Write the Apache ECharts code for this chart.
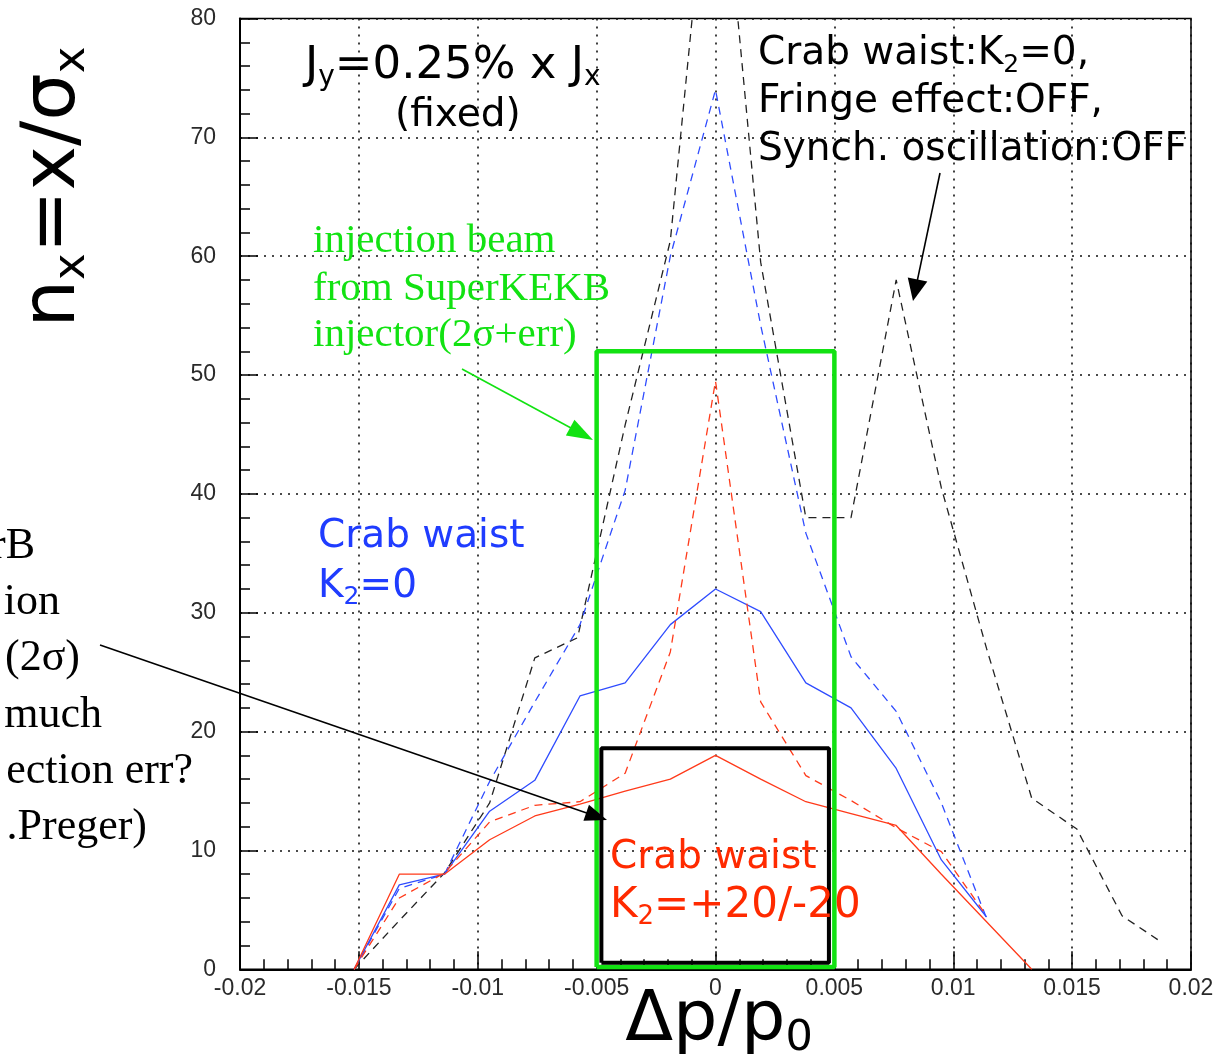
<!DOCTYPE html>
<html><head><meta charset="utf-8">
<script src="https://cdn.jsdelivr.net/npm/echarts@6/dist/echarts.min.js"></script>
<style>html,body{margin:0;padding:0;background:#fff}#c{width:1214px;height:1058px}</style>
</head><body><div id="c"></div>
<script>
// ---- data: [Δp/p0, n_x] ----
const blackDashed = [[-0.0152,0],[-0.0133,4.1],[-0.0114,8.1],[-0.0095,14],[-0.0076,26.2],[-0.0058,27.9],[-0.0038,45.8],[-0.0019,61.3],[0,100],[0.0019,59.5],[0.0038,38],[0.0057,38],[0.0076,58],[0.0095,40.5],[0.0114,27],[0.0133,14.4],[0.0152,11.8],[0.0171,4.5],[0.0186,2.5]];
const blueDashed = [[-0.0152,0],[-0.0133,6.8],[-0.0114,8],[-0.0095,15.8],[-0.0076,22.5],[-0.0057,29],[-0.0038,40.3],[-0.0019,60],[0,74],[0.0019,54.2],[0.0038,36.7],[0.0057,26.3],[0.0076,21.7],[0.0095,14],[0.0114,4.3]];
const blueSolid = [[-0.0152,0],[-0.0133,7.1],[-0.0114,8],[-0.0095,13.3],[-0.0076,15.9],[-0.0057,23],[-0.0038,24.1],[-0.0019,29],[0,32],[0.0019,30.1],[0.0038,24.1],[0.0057,22],[0.0076,16.9],[0.0095,9.2],[0.0114,4.4]];
const redDashed = [[-0.0152,0],[-0.0133,6],[-0.0114,8.1],[-0.0095,12.4],[-0.0076,13.8],[-0.0057,14.1],[-0.0038,16.5],[-0.0019,26.7],[0,49.5],[0.0019,22.5],[0.0038,16.3],[0.0057,14.2],[0.0076,11.9],[0.0095,9.9],[0.0114,4.5]];
const redSolid = [[-0.0152,0],[-0.0133,8],[-0.0114,8],[-0.0095,10.9],[-0.0076,12.9],[-0.0057,13.9],[-0.0038,15],[-0.0019,16],[0,18],[0.0019,16],[0.0038,14.1],[0.0057,13.1],[0.0076,12.1],[0.0095,8],[0.0114,4],[0.0133,0]];
const xRange = [-0.02, 0.02, 0.005];
const yRange = [0, 80, 10];
const greenBox = [[-0.005,0.2],[-0.005,52],[0.005,52],[0.005,0.2],[-0.005,0.2]];
const blackBox = [[-0.0048,0.55],[-0.0048,18.6],[0.00477,18.6],[0.00477,0.55],[-0.0048,0.55]];

const chart = echarts.init(document.getElementById('c'), null, {renderer:'canvas'});
const SANS = 'DejaVu Sans';
const SERIF = 'Liberation Serif';
const GREEN = '#12e212';
const BLUE = '#1f3cff';
const RED = '#ff2a00';

function lineSeries(name, data, color, dashed, width) {
  return {name, type:'line', data, symbol:'none', silent:true,
    lineStyle:{color, width: width||1.3, type: dashed ? [8,6] : 'solid'}, z: 3};
}
function txt(x, y, rich, parts, align, extra) {
  return Object.assign({type:'text', x, y, silent:true, z:100,
    style:{text: parts, rich, align: align||'left', verticalAlign:'middle',
      textAlign: align||'left', textVerticalAlign:'middle'}}, extra||{});
}
function arrow(x1,y1,x2,y2,color,hl,hw) {
  const dx=x2-x1, dy=y2-y1, L=Math.hypot(dx,dy), ux=dx/L, uy=dy/L;
  const bx=x2-ux*hl, by=y2-uy*hl;
  return [
    {type:'line', silent:true, z:100, shape:{x1,y1,x2:bx+ux*2,y2:by+uy*2}, style:{stroke:color, lineWidth:1.6}},
    {type:'polygon', silent:true, z:100, shape:{points:[[x2,y2],[bx-uy*hw/2,by+ux*hw/2],[bx+uy*hw/2,by-ux*hw/2]]}, style:{fill:color}}
  ];
}
function R(size, color, family){ return {fontSize:size, fontFamily:family||SANS, fill:color, color:color}; }
function S(size, color, family, pad){ return {fontSize:size, fontFamily:family||SANS, fill:color, color:color, padding:pad}; }

const graphics = [
  // y axis title
  txt(55, 187, {b:R(75,'#000'), s:S(45,'#000',SANS,[35,0,0,0])}, '{b|n}{s|x}{b|=x/σ}{s|x}', 'center', {rotation: Math.PI/2}),
  // x axis title
  txt(719, 1022, {b:R(70,'#000'), s:S(43,'#000',SANS,[33,0,0,0])}, '{b|Δp/p}{s|0}', 'center'),
  // Jy text
  txt(305, 66, {b:R(45,'#000'), s:S(28,'#000',SANS,[24,0,0,0])}, '{b|J}{s|y}{b|=0.25% x J}{s|x}', 'left'),
  txt(395, 116, {b:R(39,'#000')}, '{b|(fixed)}', 'left'),
  // black note
  txt(758, 54, {b:R(39,'#000'), s:S(25,'#000',SANS,[22,0,0,0])}, '{b|Crab waist:K}{s|2}{b|=0,}', 'left'),
  txt(758, 101.5, {b:R(39,'#000')}, '{b|Fringe effect:OFF,}', 'left'),
  txt(758, 149.5, {b:R(39,'#000')}, '{b|Synch. oscillation:OFF}', 'left'),
  // green note
  txt(313, 241.5, {b:R(41,GREEN,SERIF)}, '{b|injection beam}', 'left'),
  txt(313, 289.5, {b:R(41,GREEN,SERIF)}, '{b|from SuperKEKB}', 'left'),
  txt(313, 335, {b:R(41,GREEN,SERIF)}, '{b|injector(2σ+err)}', 'left'),
  // blue label
  txt(318, 536.5, {b:R(39,BLUE)}, '{b|Crab waist}', 'left'),
  txt(318, 586.5, {b:R(39,BLUE), s:S(25,BLUE,SANS,[22,0,0,0])}, '{b|K}{s|2}{b|=0}', 'left'),
  // red label
  txt(610, 858, {b:R(39,RED)}, '{b|Crab waist}', 'left'),
  txt(610, 906.5, {b:R(42,RED), s:S(26,RED,SANS,[22,0,0,0])}, '{b|K}{s|2}{b|=+20/-20}', 'left'),
  // clipped left note (visible fragments)
  txt(35, 546, {b:R(44,'#000',SERIF)}, '{b|rB}', 'right'),
  txt(60, 602, {b:R(44,'#000',SERIF)}, '{b|ion}', 'right'),
  txt(80, 658, {b:R(44,'#000',SERIF)}, '{b|(2σ)}', 'right'),
  txt(102, 715, {b:R(44,'#000',SERIF)}, '{b|much}', 'right'),
  txt(193, 771, {b:R(44,'#000',SERIF)}, '{b|ection err?}', 'right'),
  txt(147, 827, {b:R(44,'#000',SERIF)}, '{b|.Preger)}', 'right'),
  ...arrow(100,645,607,820,'#000',22,17),
  ...arrow(462,369,593,440,GREEN,26,18),
  ...arrow(940,173,913,301,'#000',22,20)
];

const tickFmt = v => String(+(+v).toFixed(3));
const axisCommon = {
  axisLine:{show:true, onZero:false, lineStyle:{color:'#000', width:2}},
  axisTick:{show:true, inside:true, length:18, lineStyle:{color:'#000', width:1.5}},
  minorTick:{show:true, splitNumber:5, length:10, lineStyle:{color:'#000', width:1.5}},
  splitLine:{show:true, lineStyle:{type:[2,6], color:'#111', width:1.6}},
  minorSplitLine:{show:false}
};

chart.setOption({
  animation:false,
  backgroundColor:'#fff',
  grid:{left:240, right:23, top:18.5, bottom:88.7, show:true, borderColor:'#000', borderWidth:1.5, containLabel:false, outerBoundsMode:'none'},
  xAxis:Object.assign({type:'value', min:xRange[0], max:xRange[1], interval:xRange[2],
    axisLabel:{formatter:tickFmt, fontFamily:'Liberation Sans', fontSize:23, color:'#2a2a2a', margin:8, showMinLabel:true, showMaxLabel:true}}, axisCommon),
  yAxis:Object.assign({type:'value', min:yRange[0], max:yRange[1], interval:yRange[2],
    axisLabel:{formatter:tickFmt, fontFamily:'Liberation Sans', fontSize:23, color:'#2a2a2a', margin:24}}, axisCommon),
  series:[
    lineSeries('Crab waist K2=0, fringe OFF, synch OFF', blackDashed, '#222', true),
    lineSeries('Crab waist K2=0 (dashed)', blueDashed, '#2f4cff', true),
    lineSeries('Crab waist K2=0', blueSolid, '#2f4cff', false),
    lineSeries('Crab waist K2=+20/-20 (dashed)', redDashed, '#ff3a1a', true),
    lineSeries('Crab waist K2=+20/-20', redSolid, '#ff3a1a', false),
    {type:'line', data:greenBox, symbol:'none', silent:true, clip:false, lineStyle:{color:GREEN, width:4.5}, z:5},
    {type:'line', data:blackBox, symbol:'none', silent:true, clip:false, lineStyle:{color:'#000', width:4}, z:6}
  ],
  graphic:graphics
});
</script></body></html>
